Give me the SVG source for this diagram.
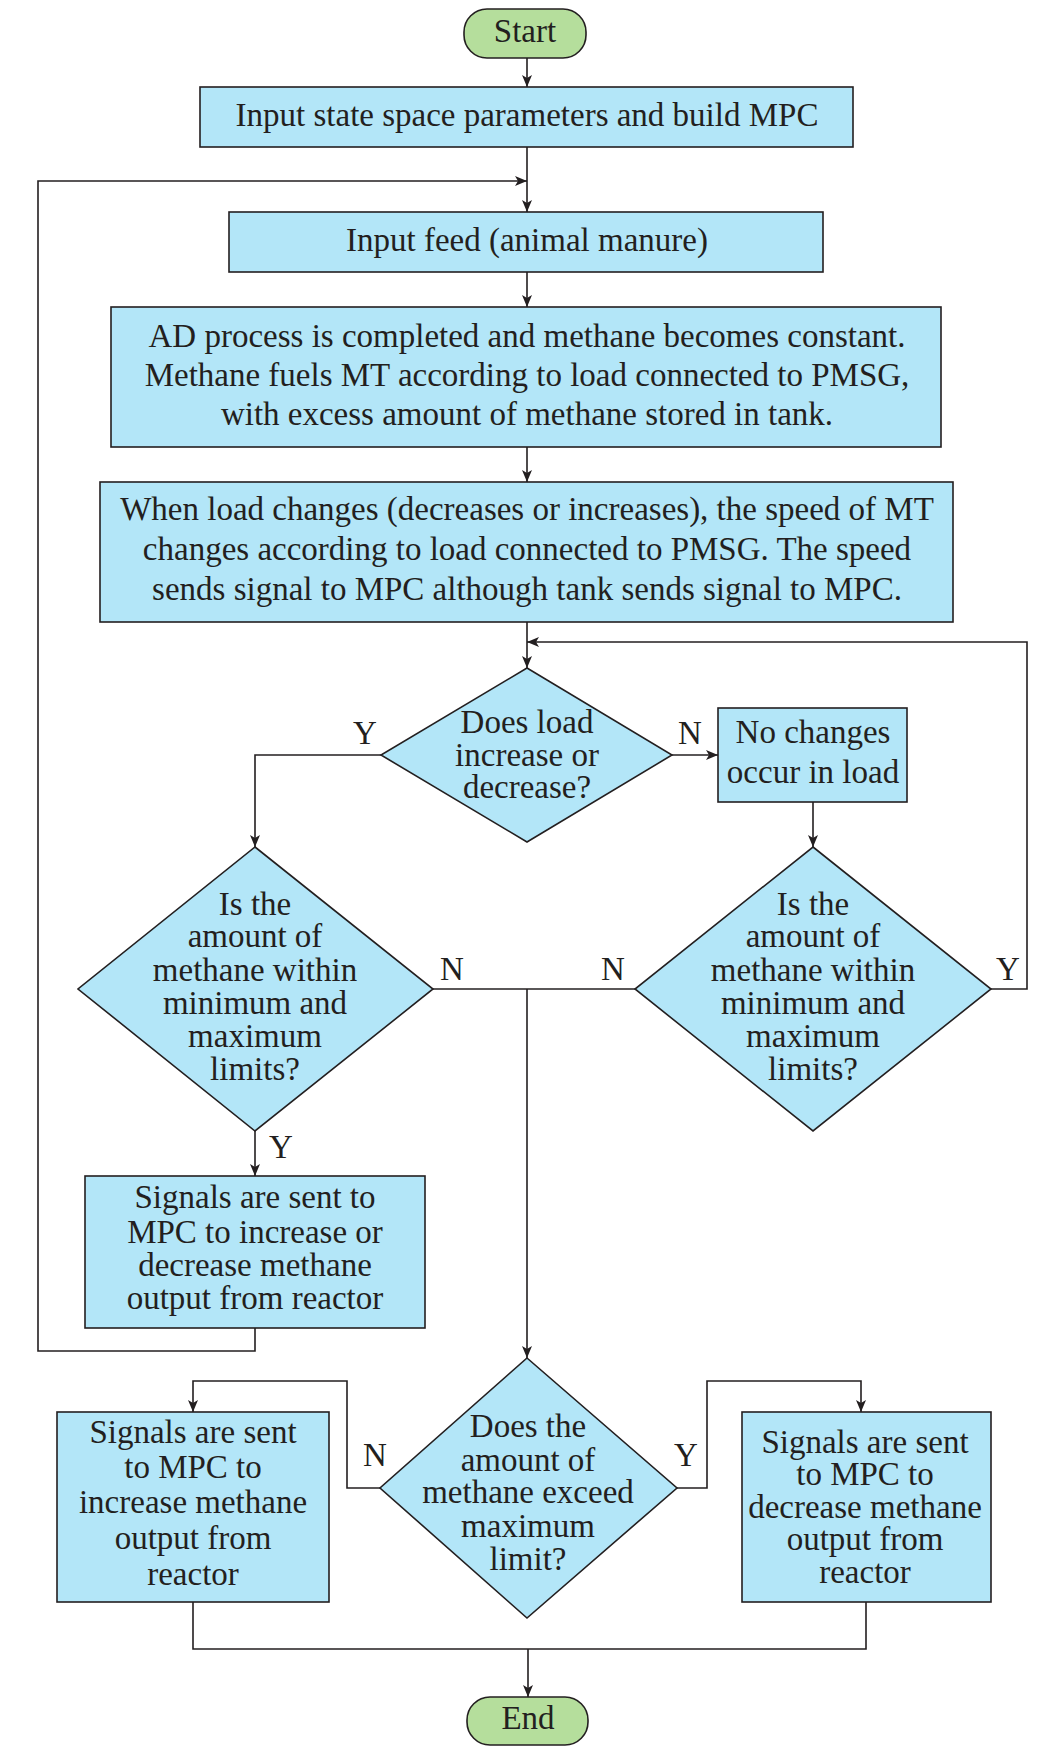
<svg xmlns="http://www.w3.org/2000/svg" width="1040" height="1747" viewBox="0 0 1040 1747">
<style>
.t{font-family:"Liberation Serif","Times New Roman",serif;font-size:33px;fill:#231f20;text-anchor:middle}
.box{fill:#b3e6f8;stroke:#231f20;stroke-width:1.6}
.term{fill:#b5de9c;stroke:#231f20;stroke-width:1.6}
.c{fill:none;stroke:#231f20;stroke-width:1.6}
.a{marker-end:url(#ah)}
</style>
<defs>
<marker id="ah" viewBox="0 0 12 10" refX="12" refY="5" markerWidth="12" markerHeight="10" markerUnits="userSpaceOnUse" orient="auto">
<path d="M0,0 L12,5 L0,10 L3,5 Z" fill="#231f20"/>
</marker>
</defs>
<rect width="1040" height="1747" fill="#ffffff"/>
<g id="connectors">
<line class="c a" x1="527" y1="58" x2="527" y2="87"/>
<line class="c a" x1="527" y1="147" x2="527" y2="212"/>
<polyline class="c a" points="255,1328 255,1351 38,1351 38,181 527,181"/>
<line class="c a" x1="527" y1="272" x2="527" y2="307"/>
<line class="c a" x1="527" y1="447" x2="527" y2="482"/>
<line class="c a" x1="527" y1="622" x2="527" y2="668"/>
<polyline class="c a" points="991,989 1027,989 1027,642 527,642"/>
<polyline class="c a" points="381,755 255,755 255,847"/>
<line class="c a" x1="672" y1="755" x2="718" y2="755"/>
<line class="c a" x1="813" y1="802" x2="813" y2="847"/>
<line class="c a" x1="255" y1="1131" x2="255" y2="1176"/>
<line class="c" x1="433" y1="989" x2="635" y2="989"/>
<line class="c a" x1="527" y1="989" x2="527" y2="1358"/>
<polyline class="c a" points="380,1488 347,1488 347,1381 193,1381 193,1412"/>
<polyline class="c a" points="677,1488 707,1488 707,1381 861,1381 861,1412"/>
<polyline class="c" points="193,1602 193,1649 866,1649 866,1602"/>
<line class="c a" x1="528" y1="1649" x2="528" y2="1697"/>
</g>
<g id="labels">
<text class="t" x="365" y="744">Y</text>
<text class="t" x="690" y="744">N</text>
<text class="t" x="452" y="980">N</text>
<text class="t" x="613" y="980">N</text>
<text class="t" x="1008" y="980">Y</text>
<text class="t" x="281" y="1158">Y</text>
<text class="t" x="375" y="1466">N</text>
<text class="t" x="686" y="1466">Y</text>
</g>
<g id="start">
<rect class="term" x="464" y="9" width="122" height="49" rx="23" ry="23"/>
<text class="t" x="525" y="42">Start</text>
</g>
<g id="build-mpc">
<rect class="box" x="200" y="87" width="653" height="60"/>
<text class="t" x="527" y="126">Input state space parameters and build MPC</text>
</g>
<g id="input-feed">
<rect class="box" x="229" y="212" width="594" height="60"/>
<text class="t" x="527" y="251">Input feed (animal manure)</text>
</g>
<g id="ad-process">
<rect class="box" x="111" y="307" width="830" height="140"/>
<text class="t" x="527" y="347">AD process is completed and methane becomes constant.</text>
<text class="t" x="527" y="386">Methane fuels MT according to load connected to PMSG,</text>
<text class="t" x="527" y="425">with excess amount of methane stored in tank.</text>
</g>
<g id="load-change">
<rect class="box" x="100" y="482" width="853" height="140"/>
<text class="t" x="527" y="520">When load changes (decreases or increases), the speed of MT</text>
<text class="t" x="527" y="560">changes according to load connected to PMSG. The speed</text>
<text class="t" x="527" y="600">sends signal to MPC although tank sends signal to MPC.</text>
</g>
<g id="dec-load">
<polygon class="box" points="527,668 672,755 527,842 381,755"/>
<text class="t" x="527" y="733">Does load</text>
<text class="t" x="527" y="766">increase or</text>
<text class="t" x="527" y="798">decrease?</text>
</g>
<g id="no-change">
<rect class="box" x="718" y="708" width="189" height="94"/>
<text class="t" x="813" y="743">No changes</text>
<text class="t" x="813" y="783">occur in load</text>
</g>
<g id="dec-limits-left">
<polygon class="box" points="255,847 433,989 255,1131 78,989"/>
<text class="t" x="255" y="915">Is the</text>
<text class="t" x="255" y="947">amount of</text>
<text class="t" x="255" y="981">methane within</text>
<text class="t" x="255" y="1014">minimum and</text>
<text class="t" x="255" y="1047">maximum</text>
<text class="t" x="255" y="1080">limits?</text>
</g>
<g id="dec-limits-right">
<polygon class="box" points="813,847 991,989 813,1131 635,989"/>
<text class="t" x="813" y="915">Is the</text>
<text class="t" x="813" y="947">amount of</text>
<text class="t" x="813" y="981">methane within</text>
<text class="t" x="813" y="1014">minimum and</text>
<text class="t" x="813" y="1047">maximum</text>
<text class="t" x="813" y="1080">limits?</text>
</g>
<g id="signal-inc-dec">
<rect class="box" x="85" y="1176" width="340" height="152"/>
<text class="t" x="255" y="1208">Signals are sent to</text>
<text class="t" x="255" y="1243">MPC to increase or</text>
<text class="t" x="255" y="1276">decrease methane</text>
<text class="t" x="255" y="1309">output from reactor</text>
</g>
<g id="dec-exceed">
<polygon class="box" points="527,1358 677,1488 527,1618 380,1488"/>
<text class="t" x="528" y="1437">Does the</text>
<text class="t" x="528" y="1471">amount of</text>
<text class="t" x="528" y="1503">methane exceed</text>
<text class="t" x="528" y="1537">maximum</text>
<text class="t" x="528" y="1570">limit?</text>
</g>
<g id="signal-inc">
<rect class="box" x="57" y="1412" width="272" height="190"/>
<text class="t" x="193" y="1443">Signals are sent</text>
<text class="t" x="193" y="1478">to MPC to</text>
<text class="t" x="193" y="1513">increase methane</text>
<text class="t" x="193" y="1549">output from</text>
<text class="t" x="193" y="1585">reactor</text>
</g>
<g id="signal-dec">
<rect class="box" x="742" y="1412" width="249" height="190"/>
<text class="t" x="865" y="1453">Signals are sent</text>
<text class="t" x="865" y="1485">to MPC to</text>
<text class="t" x="865" y="1518">decrease methane</text>
<text class="t" x="865" y="1550">output from</text>
<text class="t" x="865" y="1583">reactor</text>
</g>
<g id="end">
<rect class="term" x="467" y="1697" width="121" height="48" rx="23" ry="23"/>
<text class="t" x="528" y="1729">End</text>
</g>
</svg>
